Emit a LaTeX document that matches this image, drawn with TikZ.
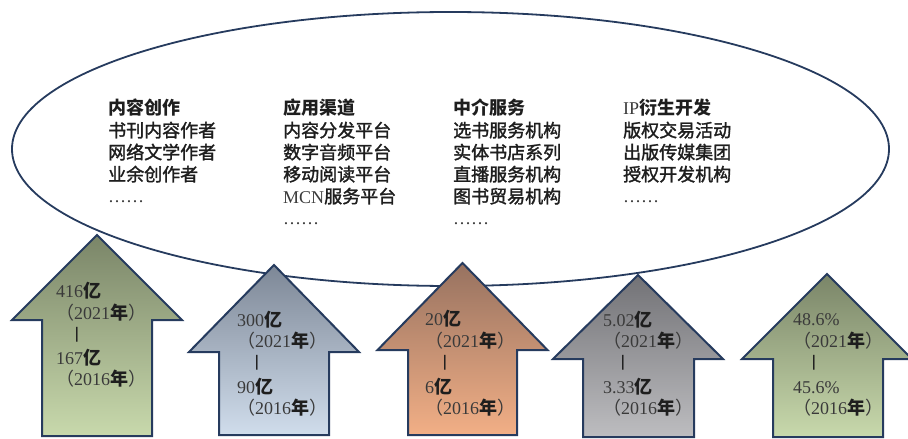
\documentclass[tikz,border=0pt]{standalone}
\usepackage{fontspec}
\setmainfont{Liberation Serif}
\newfontfamily\cjk{Noto Sans CJK SC}
\newfontfamily\cjkm[FakeBold=1.6]{Noto Sans CJK SC}
\definecolor{edge}{HTML}{263B5E}
\definecolor{txt}{HTML}{1E1E1E}
\definecolor{lat}{HTML}{3A3A3A}
\definecolor{gAt}{HTML}{7A8568}
\definecolor{gAb}{HTML}{C8D9AC}
\definecolor{gBt}{HTML}{7D8796}
\definecolor{gBb}{HTML}{D0DDEC}
\definecolor{gCt}{HTML}{977260}
\definecolor{gCb}{HTML}{F2AF86}
\definecolor{gDt}{HTML}{727276}
\definecolor{gDb}{HTML}{BDBDC0}
\tikzset{
  arr/.style={draw=edge, line width=2pt, line join=miter},
  hd/.style={font=\cjk\bfseries\fontsize{18}{22}\selectfont, anchor=base west, inner sep=0pt, text=txt},
  itm/.style={font=\cjkm\fontsize{18}{22}\selectfont, anchor=base west, inner sep=0pt, text=txt},
  dts/.style={font=\fontsize{18}{22}\selectfont, anchor=base west, inner sep=0pt, text=lat},
  num/.style={font=\fontsize{18}{22}\selectfont, anchor=base west, inner sep=0pt, text=lat},
  barr/.style={font=\cjk\bfseries\fontsize{13}{13}\selectfont, anchor=center, inner sep=0pt, text=txt},
}
\newcommand{\Yi}{{\cjk\bfseries\color{txt}亿}}
\newcommand{\Yr}[1]{{\cjk （}#1{\cjk\bfseries\color{txt}年}{\cjk ）}}
\begin{document}
\begin{tikzpicture}[x=1pt,y=-1pt]
\useasboundingbox (0,0) rectangle (908,439);
\clip (0,0) rectangle (908,439);
% ellipse
\draw[draw=edge, line width=1.8pt] (450.5,149) ellipse [x radius=438.5pt, y radius=137pt];
% column 1
\node[hd]  (c1h) at (108,114) {内容创作};
\node[itm] (c1a) at (108,137) {书刊内容作者};
\node[itm] (c1b) at (108,159) {网络文学作者};
\node[itm] (c1c) at (108,181) {业余创作者};
\node[dts] (c1d) at (108,202) {……};
% column 2
\node[hd]  (c2h) at (283,114) {应用渠道};
\node[itm] (c2a) at (283,137) {内容分发平台};
\node[itm] (c2b) at (283,159) {数字音频平台};
\node[itm] (c2c) at (283,181) {移动阅读平台};
\node[itm] (c2d) at (283,203) {{\fontspec{Liberation Serif}\color{lat}MCN}服务平台};
\node[dts] (c2e) at (283,224) {……};
% column 3
\node[hd]  (c3h) at (453,114) {中介服务};
\node[itm] (c3a) at (453,137) {选书服务机构};
\node[itm] (c3b) at (453,159) {实体书店系列};
\node[itm] (c3c) at (453,181) {直播服务机构};
\node[itm] (c3d) at (453,203) {图书贸易机构};
\node[dts] (c3e) at (453,224) {……};
% column 4
\node[hd]  (c4h) at (623,114) {{\fontspec{Liberation Serif}\mdseries\color{lat}IP}衍生开发};
\node[itm] (c4a) at (623,137) {版权交易活动};
\node[itm] (c4b) at (623,159) {出版传媒集团};
\node[itm] (c4c) at (623,181) {授权开发机构};
\node[dts] (c4d) at (623,202) {……};
% arrows
\draw[arr, top color=gAt, bottom color=gAb] (97,235) -- (182,320) -- (152,320) -- (152,436) -- (42,436) -- (42,320) -- (12,320) -- cycle;
\draw[arr, top color=gBt, bottom color=gBb] (274,265) -- (359,352) -- (329,352) -- (329,435) -- (219,435) -- (219,352) -- (189,352) -- cycle;
\draw[arr, top color=gCt, bottom color=gCb] (462.5,263) -- (547.5,350) -- (517,350) -- (517,435) -- (408,435) -- (408,350) -- (377.5,350) -- cycle;
\draw[arr, top color=gDt, bottom color=gDb] (638,275) -- (723,359) -- (694,359) -- (694,437) -- (583,437) -- (583,359) -- (553,359) -- cycle;
\draw[arr, top color=gAt, bottom color=gAb] (827,274) -- (912,359) -- (883,359) -- (883,437) -- (773,437) -- (773,359) -- (742,359) -- cycle;
% arrow 1 texts
\node[num] (a1a) at (56,297) {416\Yi};
\node[num] (a1b) at (56,319) {\Yr{2021}};
\node[barr] (a1c) at (77,335) {|};
\node[num] (a1d) at (56,364) {167\Yi};
\node[num] (a1e) at (56,385) {\Yr{2016}};
% arrow 2 texts
\node[num] (a2a) at (237,326) {300\Yi};
\node[num] (a2b) at (237,347) {\Yr{2021}};
\node[barr] (a2c) at (257,363) {|};
\node[num] (a2d) at (237,393) {90\Yi};
\node[num] (a2e) at (237,414) {\Yr{2016}};
% arrow 3 texts
\node[num] (a3a) at (425,325) {20\Yi};
\node[num] (a3b) at (425,347) {\Yr{2021}};
\node[barr] (a3c) at (445,363) {|};
\node[num] (a3d) at (425,393) {6\Yi};
\node[num] (a3e) at (425,414) {\Yr{2016}};
% arrow 4 texts
\node[num] (a4a) at (603,326) {5.02\Yi};
\node[num] (a4b) at (603,347) {\Yr{2021}};
\node[barr] (a4c) at (623,363) {|};
\node[num] (a4d) at (603,393) {3.33\Yi};
\node[num] (a4e) at (603,414) {\Yr{2016}};
% arrow 5 texts
\node[num] (a5a) at (793,325) {48.6\%};
\node[num] (a5b) at (793,347) {\Yr{2021}};
\node[barr] (a5c) at (814,363) {|};
\node[num] (a5d) at (793,393) {45.6\%};
\node[num] (a5e) at (793,414) {\Yr{2016}};
\end{tikzpicture}
\end{document}
